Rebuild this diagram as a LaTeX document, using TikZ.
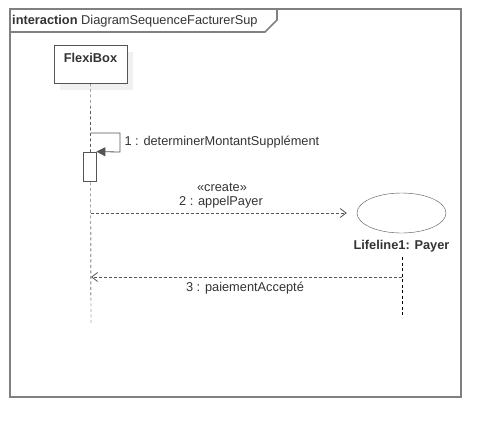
\documentclass[tikz,border=0pt]{standalone}
\usepackage{fontspec}
\setmainfont{Liberation Sans}
\usepackage{xcolor}
\usetikzlibrary{arrows.meta,positioning,shapes.geometric}
\definecolor{cadre}{HTML}{808080}
\definecolor{trait}{HTML}{555555}
\definecolor{texte}{HTML}{333333}
\begin{document}
\begin{tikzpicture}[x=1pt,y=-1pt,font=\fontsize{12.8}{15}\selectfont,text=texte,
	objet/.style={draw=trait,thick,fill=white,minimum width=73pt,minimum height=38pt,inner sep=0pt},
	activ/.style={draw=trait,thick,fill=white,minimum width=13pt,minimum height=29pt,inner sep=0pt},
	ligne/.style={black,dash pattern=on 3pt off 2.5pt},
	msg/.style={trait,thick,dash pattern=on 3pt off 2pt,-{Straight Barb[length=6pt,width=9pt]}},
	appel/.style={trait,thick,-{Triangle[length=9pt,width=9pt]}}]
		\useasboundingbox (0,0) rectangle (501,437);
		\draw[cadre,line width=1.6pt] (10,9) rectangle (461,397);
		\draw[cadre,line width=1.6pt] (10,32) -- (265,32) -- (277,20) -- (277,9);
		\node[anchor=west,inner sep=0pt] (titre) at (12,21) {\textbf{interaction} DiagramSequenceFacturerSup};
		\fill[gray!12] (60,52) rectangle (133,90);
		\node[objet] (flexi) at (90.5,64) {};
		\node[font=\fontsize{12.8}{15}\bfseries\selectfont,anchor=north] (nomflexi) at (flexi.north) [yshift=-5pt] {FlexiBox};
		\coordinate (finflexi) at (91,323);
		\draw[ligne] (flexi.south) -- (finflexi);
		\coordinate (a1) at (91,133);
		\coordinate (a2) at (120,133);
		\coordinate (a3) at (120,152);
		\node[activ] (act) at (89.5,166.5) {};
		\draw[appel] (a1) -- (a2) -- (a3) -- (act.north east);
		\node[anchor=west] (m1) at (a2) [xshift=1pt,yshift=-9pt] {1 : determinerMontantSupplément};
		\node[draw=trait,ellipse,minimum width=89pt,minimum height=40pt,inner sep=0pt] (payer) at (401.5,213) {};
		\node[font=\fontsize{12.8}{15}\bfseries\selectfont] (nompayer) at (401.5,246) {Lifeline1: Payer};
		\coordinate (debpayer) at (402,257);
		\coordinate (finpayer) at (402,315);
		\draw[ligne] (debpayer) -- (finpayer);
		\coordinate (d2) at (91,213);
		\draw[msg,shorten >=10pt] (d2) -- (payer.west);
		\node (creer) at (222,187) {«create»};
		\node (m2) at (221,202) {2 : appelPayer};
		\coordinate (d3) at (402,277);
		\coordinate (f3) at (91,277);
		\draw[msg] (d3) -- (f3);
		\node (m3) at (245,288) {3 : paiementAccepté};
	\end{tikzpicture}
\end{document}
